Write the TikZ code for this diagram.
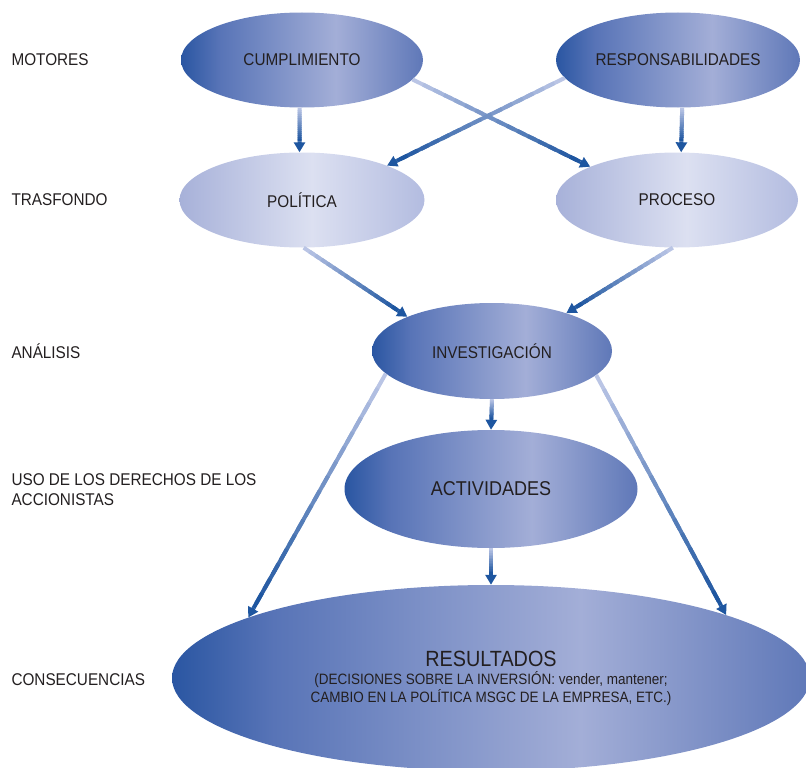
\documentclass[tikz,border=0pt]{standalone}
\usepackage{fontspec}
\setmainfont{Liberation Sans}[FakeStretch=0.9]
\usetikzlibrary{arrows.meta,calc,shapes.geometric}

\definecolor{inkgray}{HTML}{231F20}
\definecolor{arrowdark}{HTML}{1E56A0}
\definecolor{arrowpale}{HTML}{C4CCEA}
\definecolor{deepleft}{HTML}{2A56A2}
\definecolor{deepmid}{HTML}{5874B7}
\definecolor{deephigh}{HTML}{A3AED7}
\definecolor{deepright}{HTML}{5F78B8}
\definecolor{paleleft}{HTML}{A7B1D9}
\definecolor{palehigh}{HTML}{DCE0F1}
\definecolor{paleright}{HTML}{B3BCE0}

\pgfdeclarehorizontalshading{ovaldeep}{100bp}{color(0bp)=(deepleft); color(25bp)=(deepleft);
  color(33bp)=(deepmid); color(57bp)=(deephigh); color(75bp)=(deepright); color(100bp)=(deepright)}
\pgfdeclarehorizontalshading{ovalpale}{100bp}{color(0bp)=(paleleft); color(25bp)=(paleleft);
  color(52bp)=(palehigh); color(75bp)=(paleright); color(100bp)=(paleright)}

\tikzset{
  oval/.style={ellipse, inner sep=0pt, text=inkgray, font=\fontsize{17}{20}\selectfont},
  darkoval/.style={oval, shading=ovaldeep},
  lightoval/.style={oval, shading=ovalpale},
  rowlabel/.style={anchor=west, align=left, text=inkgray, font=\fontsize{17}{20}\selectfont},
}

\newcommand\flowarrow[2]{%
  \coordinate (tipbase) at ($(#2)!11pt!(#1)$);
  \foreach \k in {1,...,16}{
    \pgfmathtruncatemacro\mixpct{100*\k/16}
    \pgfmathsetmacro\segend{min(\k+0.7,16)/16}
    \draw[line width=4pt, arrowdark!\mixpct!arrowpale]
      ($(#1)!{(\k-1)/16}!(tipbase)$) -- ($(#1)!\segend!(tipbase)$);
  }
  \draw[line width=4pt, arrowdark, -{Triangle[length=10pt,width=11pt]}] (tipbase) -- (#2);
}

\begin{document}
\begin{tikzpicture}[x=1pt,y=-1pt]
    \useasboundingbox (0,0) rectangle (806,768);
    % row labels
    \node[rowlabel] (motores) at (8,60) {MOTORES};
    \node[rowlabel] (trasfondo) at (8,200) {TRASFONDO};
    \node[rowlabel] (analisis) at (8,351) {ANÁLISIS};
    \node[rowlabel] (uso) at (8,490) {USO DE LOS DERECHOS DE LOS\\ACCIONISTAS};
    \node[rowlabel] (consec) at (8,680) {CONSECUENCIAS};
    % ovals
    \node[darkoval, minimum width=242, minimum height=95] (cump) at (302,60) {CUMPLIMIENTO};
    \node[darkoval, minimum width=244, minimum height=95] (resp) at (678,60) {RESPONSABILIDADES};
    \node[lightoval, minimum width=245, minimum height=95] (pol) at (302,200) {POLÍTICA};
    \node[lightoval, minimum width=242, minimum height=95] (proc) at (677,200) {PROCESO};
    \node[darkoval, minimum width=240, minimum height=96] (inv) at (492,351) {INVESTIGACIÓN};
    \node[darkoval, minimum width=293, minimum height=118, font=\fontsize{20}{24}\selectfont] (act) at (491,489) {ACTIVIDADES};
    \node[darkoval, minimum width=638, minimum height=186, align=center, font=\fontsize{15}{18}\selectfont] (res) at (491,678)
        {{\fontsize{22}{21}\selectfont RESULTADOS}\\
         (DECISIONES SOBRE LA INVERSIÓN: vender, mantener;\\
         CAMBIO EN LA POLÍTICA MSGC DE LA EMPRESA, ETC.)};
    % arrows
    \flowarrow{cump.-93}{pol.93}
    \flowarrow{resp.-85}{proc.85}
    \flowarrow{cump.-10}{proc.159}
    \flowarrow{resp.-171}{pol.22}
    \flowarrow{pol.-88}{inv.158}
    \flowarrow{proc.-95}{inv.27}
    \flowarrow{inv.south}{act.north}
    \flowarrow{act.south}{res.north}
    \flowarrow{inv.-168}{res.166}
    \flowarrow{inv.-13}{res.15}
\end{tikzpicture}
\end{document}
